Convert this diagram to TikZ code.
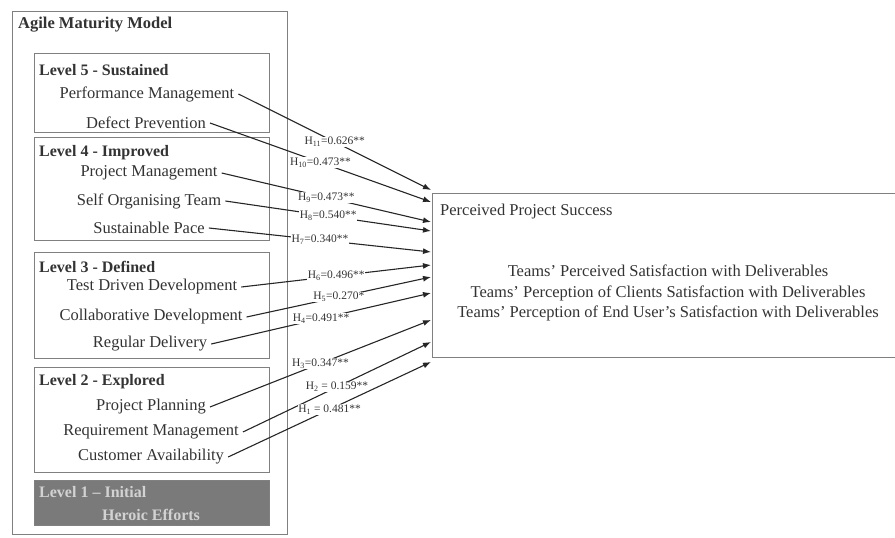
\documentclass[tikz,border=0pt]{standalone}
\usepackage{fontspec}
\setmainfont{Liberation Serif}
\usepackage{xcolor}
\usetikzlibrary{arrows.meta}
\definecolor{txt}{HTML}{333333}
\definecolor{frame}{HTML}{808080}
\definecolor{lvone}{HTML}{7A7A7A}
\definecolor{lvtxt}{HTML}{D2D2D2}

\begin{document}
\begin{tikzpicture}[x=1pt,y=-1pt,
 every node/.style={text=txt,inner sep=1pt},
 frm/.style={draw=frame,line width=1.4pt,anchor=north west,inner sep=0pt},
 ttl/.style={anchor=west,font=\fontsize{16.5}{19}\selectfont\bfseries},
 lvl/.style={anchor=west,font=\fontsize{16}{19}\selectfont\bfseries},
 prc/.style={inner xsep=4pt,font=\fontsize{16.5}{19}\selectfont},
 lnk/.style={-{Latex[length=8pt,width=6pt]},line width=1.1pt,black!85},
 hl/.style={fill=white,inner sep=0.5pt,font=\fontsize{11.5}{13}\selectfont},
 res/.style={align=center,font=\fontsize{16.5}{20.5}\selectfont}]
\useasboundingbox (0,0) rectangle (895,538);
\node[frm,minimum width=275pt,minimum height=523pt] (amm) at (12,11) {};
\node[ttl] (ammt) at (17,25) {Agile Maturity Model};
\node[frm,minimum width=235pt,minimum height=79pt] (lv5) at (34,53) {};
\node[frm,minimum width=235pt,minimum height=103pt] (lv4) at (34,137) {};
\node[frm,minimum width=235pt,minimum height=106pt] (lv3) at (34,252) {};
\node[frm,minimum width=235pt,minimum height=105pt] (lv2) at (34,367) {};
\node[frm,fill=lvone,minimum width=235pt,minimum height=45pt] (lv1) at (34,480) {};
\node[lvl] (lv5t) at (38,70) {Level 5 - Sustained};
\node[lvl] (lv4t) at (38,153) {Level 4 - Improved};
\node[lvl] (lv3t) at (38,267) {Level 3 - Defined};
\node[lvl] (lv2t) at (38,382) {Level 2 - Explored};
\node[lvl,text=lvtxt] (lv1t) at (38,492) {Level 1 -- Initial};
\node[lvl,anchor=center,text=lvtxt] (lv1h) at (151,515) {Heroic Efforts};
\node[prc] (pm) at (147,94) {Performance Management};
\node[prc] (dp) at (146,123) {Defect Prevention};
\node[prc] (pjm) at (149,173) {Project Management};
\node[prc] (sot) at (149,201) {Self Organising Team};
\node[prc] (sp) at (149,228) {Sustainable Pace};
\node[prc] (tdd) at (152,287) {Test Driven Development};
\node[prc] (cd) at (151,317) {Collaborative Development};
\node[prc] (rd) at (150,344) {Regular Delivery};
\node[prc] (pp) at (151,407) {Project Planning};
\node[prc] (rm) at (151,432) {Requirement Management};
\node[prc] (ca) at (151,457) {Customer Availability};
\node[frm,minimum width=470pt,minimum height=164pt] (pps) at (432,193) {};
\node[prc,anchor=west] (ppst) at (436,212) {Perceived Project Success};
\node[res] (ppsd) at (668,293) {Teams’ Perceived Satisfaction with Deliverables\\ Teams’ Perception of Clients Satisfaction with Deliverables\\ Teams’ Perception of End User’s Satisfaction with Deliverables};
\coordinate (e11) at (431,190);
\coordinate (e10) at (431,202);
\coordinate (e9) at (431,222);
\coordinate (e8) at (431,231);
\coordinate (e7) at (431,252);
\coordinate (e6) at (431,265);
\coordinate (e5) at (431,277);
\coordinate (e4) at (431,293);
\coordinate (e3) at (431,320);
\coordinate (e2) at (431,342);
\coordinate (e1) at (431,362);
\draw[lnk] (pm.east) -- node[hl]{H\textsubscript{11}=0.626**} (e11);
\draw[lnk] (dp.east) -- node[hl]{H\textsubscript{10}=0.473**} (e10);
\draw[lnk] (pjm.east) -- node[hl]{H\textsubscript{9}=0.473**} (e9);
\draw[lnk] (sot.east) -- node[hl]{H\textsubscript{8}=0.540**} (e8);
\draw[lnk] (sp.east) -- node[hl]{H\textsubscript{7}=0.340**} (e7);
\draw[lnk] (tdd.east) -- node[hl]{H\textsubscript{6}=0.496**} (e6);
\draw[lnk] (cd.east) -- node[hl]{H\textsubscript{5}=0.270*} (e5);
\draw[lnk] (rd.east) -- node[hl]{H\textsubscript{4}=0.491**} (e4);
\draw[lnk] (pp.east) -- node[hl]{H\textsubscript{3}=0.347**} (e3);
\draw[lnk] (rm.east) -- node[hl]{H\textsubscript{2} = 0.159**} (e2);
\draw[lnk] (ca.east) -- node[hl]{H\textsubscript{1} = 0.481**} (e1);
\end{tikzpicture}
\end{document}
